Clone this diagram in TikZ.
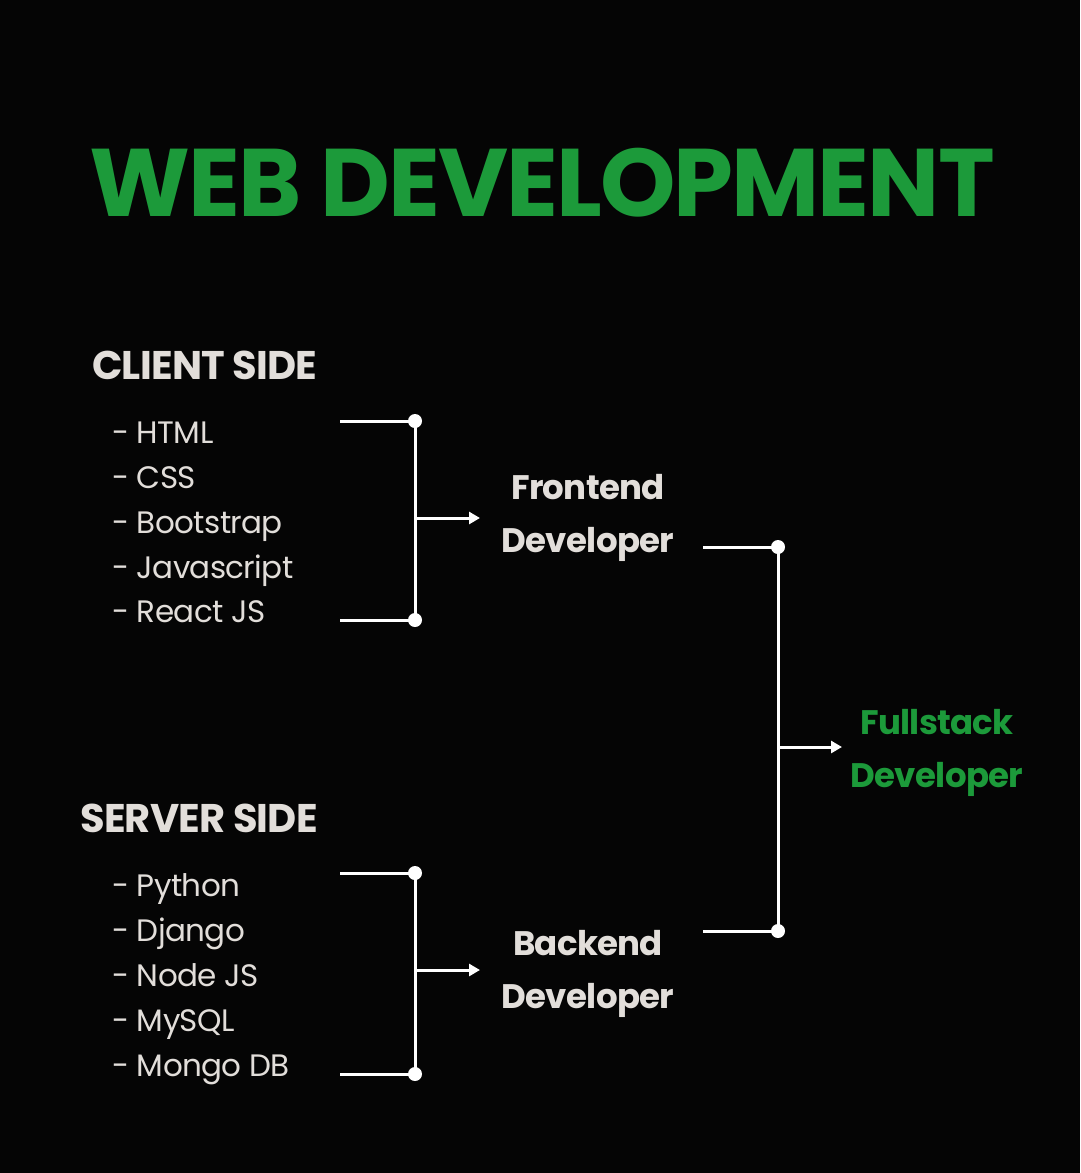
\documentclass[tikz,border=0pt]{standalone}
\usepackage{fontspec}
\setmainfont{Poppins}[LetterSpace=-2]
\usetikzlibrary{arrows.meta}
\definecolor{bg}{HTML}{050505}
\definecolor{grn}{HTML}{1C9A3A}
\definecolor{lg}{HTML}{E2DEDA}
\begin{document}
\begin{tikzpicture}[x=1pt,y=-1pt,
  hd/.style={font=\fontsize{40}{44}\selectfont\bfseries,text=lg,anchor=west,inner sep=0},
  item/.style={font=\fontsize{31}{34}\selectfont,text=lg,anchor=west,inner sep=0,text height=22pt,text depth=0pt},
  role/.style={font=\fontsize{34}{53}\selectfont\bfseries,text=lg,align=center,inner sep=0},
  ln/.style={white,line width=3pt},
  arr/.style={ln,-{Triangle[length=11pt,width=12pt]}},
  dot/.style={circle,fill=white,inner sep=0,minimum size=14pt}]
\fill[bg] (0,0) rectangle (1080,1173);
\useasboundingbox (0,0) rectangle (1080,1173);
\node[font=\fontsize{96}{100}\selectfont\bfseries,text=grn,inner sep=0] (title) at (542,183) {WEB DEVELOPMENT};
\node[hd] (cs) at (92,365) {CLIENT SIDE};
\foreach \t/\y [count=\i] in {HTML/432,CSS/477,Bootstrap/522,Javascript/567,React JS/611}
  \node[item] (c\i) at (112,\y) {- \t};
\node[hd] (ss) at (80,818) {SERVER SIDE};
\foreach \t/\y [count=\i] in {Python/885,Django/930,Node JS/975,MySQL/1020,Mongo DB/1065}
  \node[item] (s\i) at (112,\y) {- \t};
\node[role] (fe) at (588,518) {Frontend\\Developer};
\node[role] (be) at (588,974) {Backend\\Developer};
\node[role,text=grn] (fs) at (937,753) {Fullstack\\Developer};
% client bracket
\node[dot] (ct) at (415,421) {}; \node[dot] (cb) at (415,620) {};
\coordinate (cta) at (340,421); \coordinate (cba) at (340,620);
\draw[ln] (cta) -- (ct.center) -- (cb.center) -- (cba);
\coordinate (cm) at (415,518); \coordinate (cme) at (480,518);
\draw[arr] (cm) -- (cme);
% server bracket
\node[dot] (st) at (415,873) {}; \node[dot] (sb) at (415,1074) {};
\coordinate (sta) at (340,873); \coordinate (sba) at (340,1074);
\draw[ln] (sta) -- (st.center) -- (sb.center) -- (sba);
\coordinate (sm) at (415,970); \coordinate (sme) at (480,970);
\draw[arr] (sm) -- (sme);
% full bracket
\node[dot] (ft) at (778,547) {}; \node[dot] (fb) at (778,931) {};
\coordinate (fta) at (703,547); \coordinate (fba) at (703,931);
\draw[ln] (fta) -- (ft.center) -- (fb.center) -- (fba);
\coordinate (fm) at (778,747); \coordinate (fme) at (842,747);
\draw[arr] (fm) -- (fme);
\end{tikzpicture}
\end{document}
